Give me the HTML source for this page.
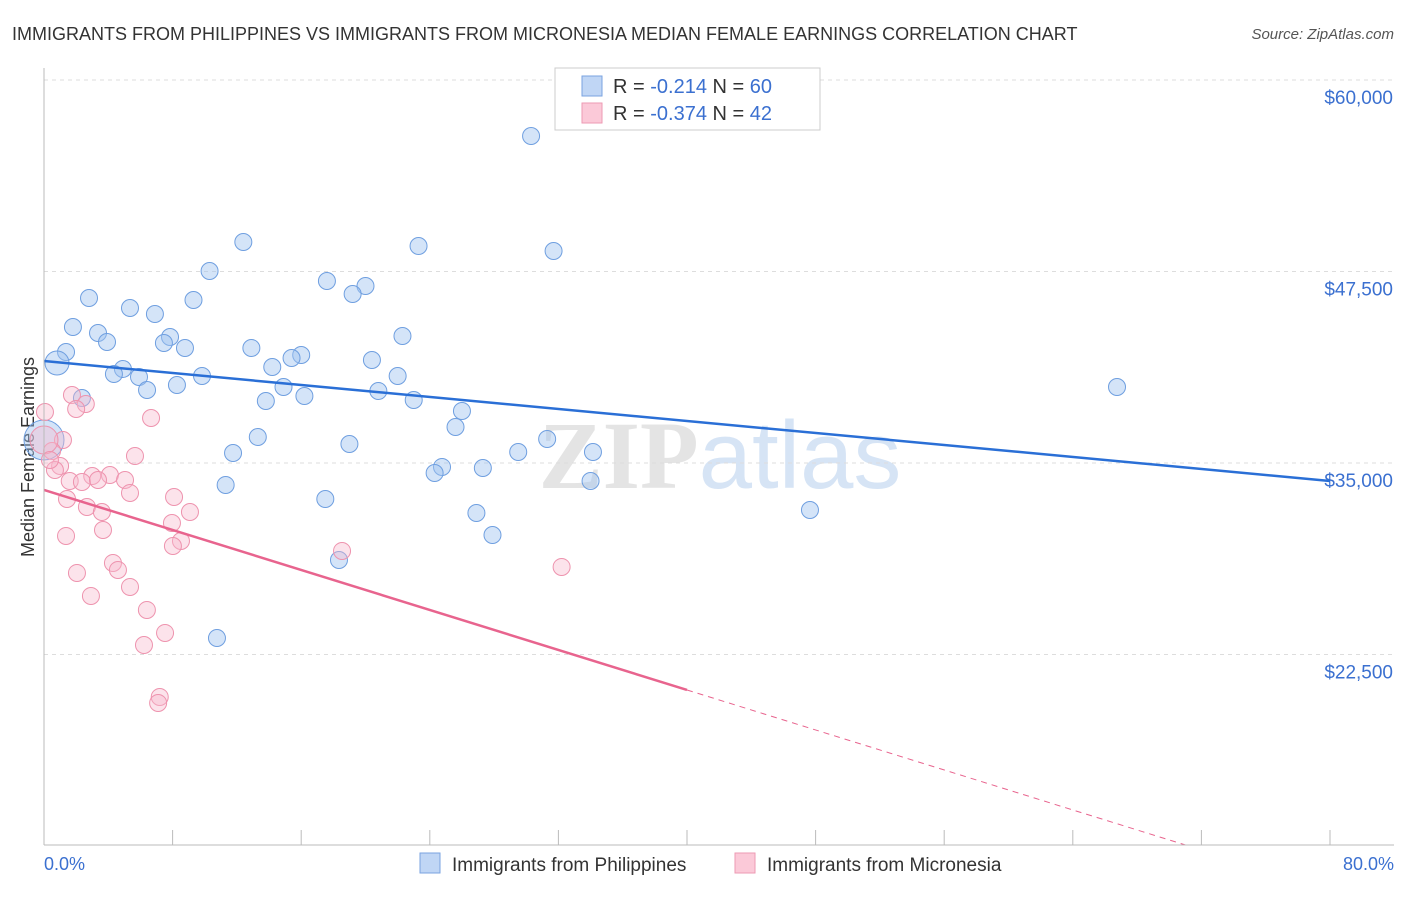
<!DOCTYPE html>
<html><head><meta charset="utf-8"><style>
body{margin:0;background:#fff;font-family:"Liberation Sans",sans-serif;}
#c{position:relative;width:1406px;height:892px;}
</style></head><body>
<div id="c">
<svg id="s" width="1406" height="892" xmlns="http://www.w3.org/2000/svg">
<text x="12" y="40" font-size="18" fill="#333">IMMIGRANTS FROM PHILIPPINES VS IMMIGRANTS FROM MICRONESIA MEDIAN FEMALE EARNINGS CORRELATION CHART</text>
<text x="1394" y="39" font-size="15" fill="#555" font-style="italic" text-anchor="end">Source: ZipAtlas.com</text>
<text x="720" y="488" font-size="96" fill="#e4e4e4" text-anchor="middle" font-family="Liberation Serif" font-weight="bold">ZIP<tspan fill="#d6e4f5" font-family="Liberation Sans" font-weight="normal">atlas</tspan></text>
<text transform="translate(34,457) rotate(-90)" font-size="18" fill="#333" text-anchor="middle">Median Female Earnings</text>
<g id="grid"></g><g id="pts"></g><g id="lines"></g>
<line x1="44" y1="68" x2="44" y2="845" stroke="#bbb"/>
<line x1="44" y1="845" x2="1394" y2="845" stroke="#bbb"/>
<text x="44" y="870" font-size="18" fill="#3b70d0">0.0%</text>
<text x="1394" y="870" font-size="18" fill="#3b70d0" text-anchor="end">80.0%</text>
<g>
<rect x="555" y="68" width="265" height="62" fill="#fff" stroke="#ccc"/>
<rect x="582" y="76" width="20" height="20" fill="#c0d6f5" stroke="#7aa3e0"/>
<rect x="582" y="103" width="20" height="20" fill="#fbc9d8" stroke="#ee9ab3"/>
<text x="613" y="93" font-size="20" fill="#333">R = <tspan fill="#3b70d0">-0.214</tspan>   N = <tspan fill="#3b70d0">60</tspan></text>
<text x="613" y="120" font-size="20" fill="#333">R = <tspan fill="#3b70d0">-0.374</tspan>   N = <tspan fill="#3b70d0">42</tspan></text>
</g>
<g>
<rect x="420" y="853" width="20" height="20" fill="#c0d6f5" stroke="#7aa3e0"/>
<text x="452" y="871" font-size="19" fill="#333">Immigrants from Philippines</text>
<rect x="735" y="853" width="20" height="20" fill="#fbc9d8" stroke="#ee9ab3"/>
<text x="767" y="871" font-size="19" fill="#333">Immigrants from Micronesia</text>
</g>
</svg></div>
<script>
const yTicks=[60000,47500,35000,22500];
const yTickLabels=["$60,000","$47,500","$35,000","$22,500"];
const xTicks=[0,8,16,24,32,40,48,56,64,72,80];
const blueX=[30.3,12.4,23.3,31.7,10.3,17.6,20.0,19.2,2.8,9.3,5.35,6.9,1.8,3.36,22.3,7.84,3.92,7.46,8.77,12.9,1.37,16.0,15.4,20.4,0.81,4.91,14.2,4.35,9.83,22.0,5.91,8.27,14.9,6.41,20.8,66.75,2.36,13.8,16.2,23.0,26.0,25.6,13.3,31.3,19.0,0,11.76,29.5,34.15,24.76,24.3,27.3,11.3,34.0,17.5,47.65,26.9,27.9,18.35,10.76];
const blueY=[56345,49426,49165,48839,47533,46881,46554,46032,45771,45641,45119,44727,43878,43487,43291,43226,42899,42834,42508,42508,42247,42051,41855,41724,41528,41137,41267,40810,40680,40680,40615,40093,39962,39766,39701,39962,39244,39048,39374,39113,38396,37351,36699,36568,36242,36503,35654,35720,35720,34741,34349,34675,33566,33827,32652,31934,31738,30302,28670,23579];
const pinkX=[0.06,1.74,2.6,2.0,6.66,1.18,0.5,5.66,1.0,0.68,3.0,4.1,5.04,1.6,2.36,3.36,5.35,8.09,1.43,2.67,3.6,9.08,7.96,3.67,1.37,8.52,8.02,18.54,4.29,32.2,4.6,2.05,5.35,2.92,6.4,7.53,6.22,7.2,7.1,0,0.37];
const pinkY=[38330,39440,38852,38526,37939,36503,35785,35459,34806,34545,34153,34218,33892,33827,33762,33892,33044,32782,32652,32130,31803,31803,31085,30628,30237,29910,29584,29258,28475,28214,28018,27823,26909,26321,25407,23906,23122,19728,19337,36503,35198];
const blueTrend=[41659,33827];
const pinkTrend=[33239,20185];
const NS="http://www.w3.org/2000/svg";
function X(p){return 44+p/80*1286;}
function Y(v){return 80+(60000-v)/12500*191.5;}
function mk(tag,a,parent){const e=document.createElementNS(NS,tag);for(const k in a)e.setAttribute(k,a[k]);document.getElementById(parent).appendChild(e);return e;}
yTicks.forEach((v,i)=>{
 const l=mk('line',{x1:44,x2:1394,y1:Y(v),y2:Y(v),stroke:'#ddd','stroke-dasharray':'4,4'},'grid');
 
 
 const t=mk('text',{x:1393,y:Y(v)+24,'font-size':19,fill:'#3b70d0','text-anchor':'end'},'grid');
 t.textContent=yTickLabels[i];
 
 
});
xTicks.forEach(p=>{
 const l=mk('line',{x1:X(p),x2:X(p),y1:830,y2:845,stroke:'#bbb'},'grid');
 
 
});
function big(x,y){return (x===0&&Math.abs(y-36503)<1);}
blueX.forEach((x,i)=>{
 const r=big(x,blueY[i])?20:(x===0.81?12:8.5);
 const c=mk('circle',{cx:X(x),cy:Y(blueY[i]),r:r,fill:'rgba(160,196,240,0.45)',stroke:'#6f9fe0','stroke-width':1},'pts');
 
 
});
pinkX.forEach((x,i)=>{
 const r=big(x,pinkY[i])?14:8.5;
 const c=mk('circle',{cx:X(x),cy:Y(pinkY[i]),r:r,fill:'rgba(248,184,204,0.4)',stroke:'#ee93ae','stroke-width':1},'pts');
 
 
});
const bl=mk('line',{x1:X(0),y1:Y(blueTrend[0]),x2:X(80),y2:Y(blueTrend[1]),stroke:'#2a6fd6','stroke-width':2.5},'lines');


const slope=(pinkTrend[1]-pinkTrend[0])/40;
const pl=mk('line',{x1:X(0),y1:Y(pinkTrend[0]),x2:X(40),y2:Y(pinkTrend[1]),stroke:'#e8648e','stroke-width':2.5},'lines');


const yb=60000-765/191.5*12500;
const xe=40+(yb-pinkTrend[1])/slope;
const pd=mk('line',{x1:X(40),y1:Y(pinkTrend[1]),x2:X(xe),y2:Y(yb),stroke:'#e8648e','stroke-width':1,'stroke-dasharray':'6,5'},'lines');


</script>
</body></html>
